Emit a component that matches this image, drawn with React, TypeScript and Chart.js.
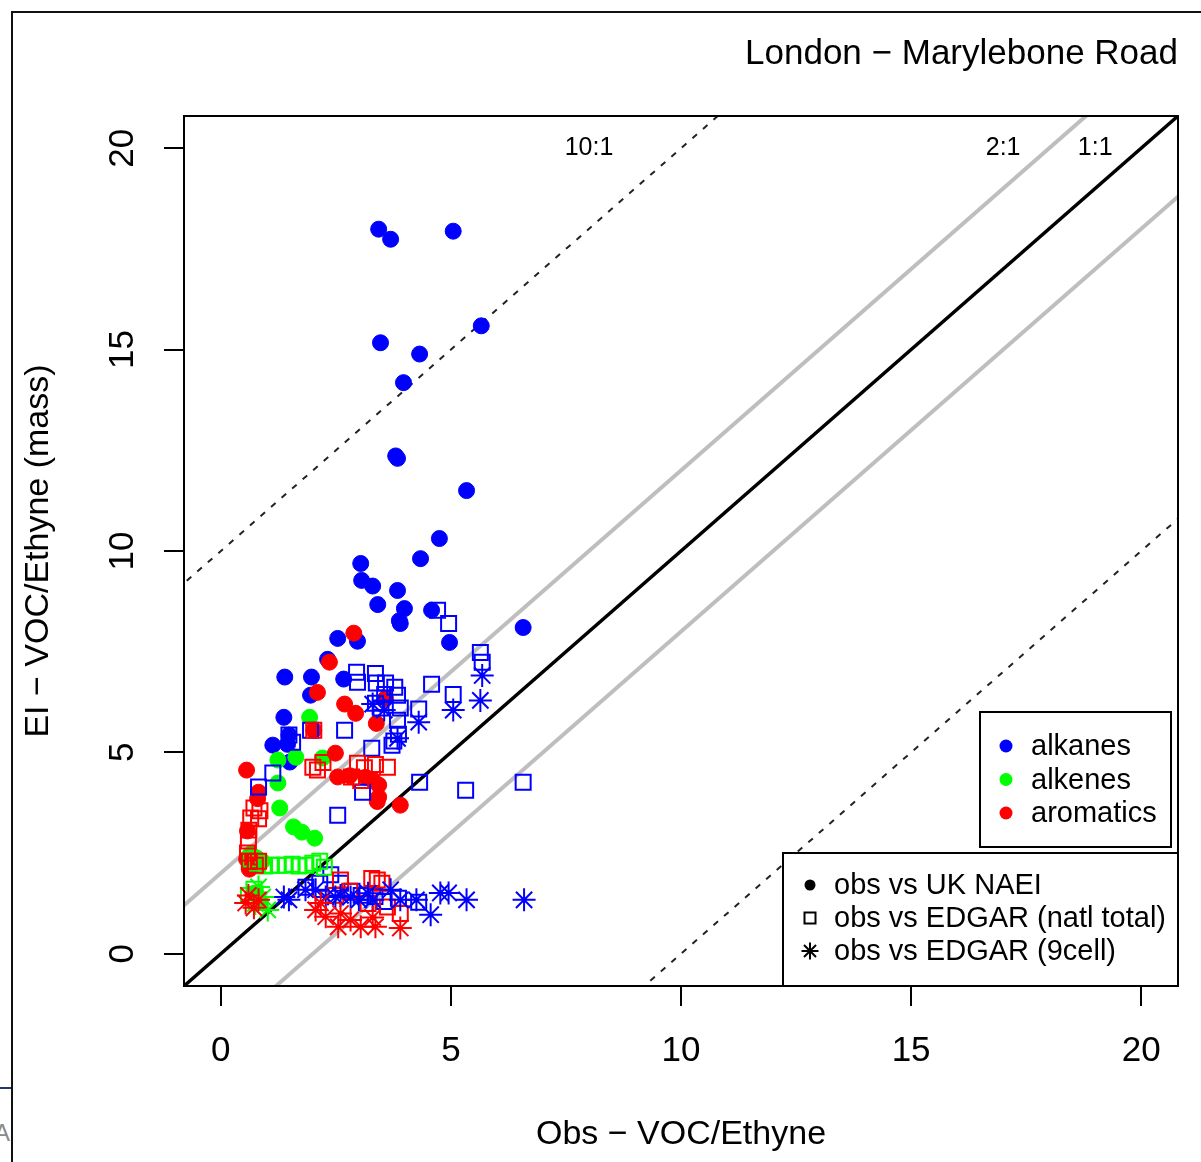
import React, { useEffect, useRef } from "react";
import { Chart, registerables } from "chart.js";

Chart.register(...registerables);

type Pt = [number, number];

// ---- data (x = Obs VOC/Ethyne, y = EI VOC/Ethyne) ----
const alkanesNAEI: Pt[] = [
  [3.43, 17.99], [3.69, 17.74], [5.05, 17.94], [5.66, 15.59], [3.47, 15.17], [4.32, 14.89],
  [3.97, 14.18], [3.80, 12.36], [3.84, 12.30], [5.34, 11.50], [4.75, 10.31], [4.34, 9.81],
  [3.04, 9.69], [3.06, 9.27], [3.30, 9.13], [3.84, 9.02], [3.41, 8.67], [3.99, 8.57],
  [3.88, 8.27], [3.90, 8.20], [4.58, 8.53], [4.97, 7.73], [6.57, 8.10], [2.54, 7.83],
  [2.97, 7.76], [2.32, 7.31], [1.97, 6.87], [1.39, 6.87], [2.67, 6.82], [1.95, 6.42],
  [1.37, 5.87], [1.13, 5.18], [1.48, 5.43], [1.50, 4.76], [1.45, 5.20],
];
const alkenesNAEI: Pt[] = [
  [1.93, 5.87], [1.24, 4.81], [1.63, 4.88], [2.21, 4.86], [1.24, 4.24], [1.28, 3.62],
  [1.58, 3.15], [1.76, 3.02], [2.04, 2.87], [0.65, 2.48], [0.78, 2.38], [0.90, 2.30],
  [0.72, 1.50], [0.85, 1.30],
];
const aromaticsNAEI: Pt[] = [
  [2.89, 7.96], [2.36, 7.24], [2.10, 6.49], [2.69, 6.20], [2.93, 5.97], [3.58, 6.34],
  [3.38, 5.72], [2.02, 5.55], [0.56, 4.56], [0.82, 4.01], [0.80, 3.85], [2.49, 4.98],
  [2.54, 4.39], [2.80, 4.42], [3.15, 4.38], [3.30, 4.32], [3.43, 4.19], [3.43, 3.89],
  [3.40, 3.78], [3.90, 3.69], [0.58, 3.05], [0.56, 2.35], [0.62, 2.10],
];
const alkanesEDGAR: Pt[] = [
  [4.71, 8.53], [4.95, 8.20], [5.64, 7.48], [5.68, 7.24], [4.58, 6.69], [5.05, 6.44],
  [2.95, 6.99], [3.36, 6.96], [2.97, 6.74], [3.38, 6.72], [3.58, 6.72], [3.78, 6.62],
  [3.84, 6.42], [3.56, 6.44], [4.30, 6.08], [3.48, 6.10], [3.36, 6.22], [3.90, 6.10],
  [3.84, 5.80], [3.86, 5.45], [3.76, 5.28], [3.28, 5.10], [3.72, 5.18], [4.32, 4.26],
  [5.32, 4.06], [6.57, 4.26], [3.08, 4.01], [2.54, 3.44], [0.82, 4.14], [1.13, 4.49],
  [1.48, 5.43], [1.56, 5.25], [1.95, 5.55], [2.69, 5.55], [2.39, 1.96], [2.15, 1.75],
  [2.60, 1.75], [2.85, 1.55], [3.05, 1.45], [3.35, 1.42], [3.55, 1.30], [3.86, 1.38],
  [4.30, 1.28], [1.85, 1.65],
];
const alkenesEDGAR: Pt[] = [
  [0.65, 2.35], [0.80, 2.25], [0.95, 2.18], [1.10, 2.20], [1.25, 2.20], [1.40, 2.20],
  [1.55, 2.22], [1.70, 2.18], [1.85, 2.20], [2.00, 2.25], [2.15, 2.30], [2.25, 2.15],
  [0.72, 1.60], [0.60, 1.45],
];
const aromaticsEDGAR: Pt[] = [
  [0.72, 3.62], [0.85, 3.55], [0.65, 3.37], [0.82, 3.35], [0.61, 3.07], [0.60, 2.80],
  [0.58, 2.50], [0.62, 2.30], [0.75, 2.20], [0.82, 2.30], [2.00, 4.63], [2.10, 4.56],
  [2.22, 4.75], [2.97, 4.73], [2.84, 4.39], [3.04, 4.30], [3.12, 4.62], [3.62, 4.63],
  [3.36, 4.70], [2.02, 5.55], [2.60, 1.83], [3.28, 1.87], [3.40, 1.83], [3.50, 1.75],
  [2.80, 1.55], [2.50, 1.45], [3.62, 1.16], [3.90, 1.00], [3.20, 1.25],
];
const alkanes9cell: Pt[] = [
  [5.68, 6.91], [5.64, 6.29], [5.05, 6.05], [4.30, 5.75], [3.84, 5.35], [3.30, 6.20],
  [3.55, 6.05], [1.37, 1.41], [1.48, 1.34], [1.84, 1.59], [2.06, 1.59], [2.28, 1.41],
  [2.49, 1.41], [2.82, 1.41], [3.00, 1.34], [3.30, 1.34], [3.69, 1.59], [3.90, 1.34],
  [4.25, 1.34], [4.56, 0.97], [4.77, 1.51], [4.95, 1.51], [5.34, 1.34], [6.59, 1.34],
  [3.20, 1.50], [2.60, 1.45],
];
const alkenes9cell: Pt[] = [[0.91, 1.41], [1.02, 1.09], [0.82, 1.66], [0.75, 1.25]];
const aromatics9cell: Pt[] = [
  [0.54, 1.26], [0.82, 1.34], [0.72, 1.14], [2.06, 1.09], [2.28, 0.92], [2.55, 0.67],
  [2.82, 0.84], [3.04, 0.67], [3.36, 0.67], [3.90, 0.64], [2.17, 1.26], [2.60, 1.00],
  [3.30, 0.90], [0.60, 1.45],
];

const xTickValues = [0, 5, 10, 15, 20];
const yTickValues = [0, 5, 10, 15, 20];
const axisLimits = [-0.8, 20.8];
const refLineOffsets = [10, 2, 0, -2, -10];
const ratioLabels = ["10:1", "2:1", "1:1"];
const ratioLabelX = [8, 17, 19];
const ratioLabelY = [20, 20, 20];
const groupLabels = ["alkanes", "alkenes", "aromatics"];
const sourceLabels = ["obs vs UK NAEI", "obs vs EDGAR (natl total)", "obs vs EDGAR (9cell)"];
const titleText = "London \u2212 Marylebone Road";
const xTitleText = "Obs \u2212 VOC/Ethyne";
const yTitleText = "EI \u2212 VOC/Ethyne (mass)";

const W = 1201;
const H = 1162;
const FONT = '"Liberation Sans", Arial, Helvetica, sans-serif';
const COLORS = ["#0000FF", "#00FF00", "#FF0000"];

function toXY(pts: Pt[]) {
  return pts.map(([x, y]) => ({ x, y }));
}

function refStyle(k: number) {
  if (Math.abs(k) === 10) return { borderColor: "#222", borderWidth: 2, borderDash: [6, 8] };
  if (k === 0) return { borderColor: "#000", borderWidth: 3.5, borderDash: [] };
  return { borderColor: "#BEBEBE", borderWidth: 4, borderDash: [] };
}

function drawStar(ctx: CanvasRenderingContext2D, x: number, y: number, r: number) {
  const d = r * Math.SQRT1_2;
  ctx.beginPath();
  ctx.moveTo(x - r, y); ctx.lineTo(x + r, y);
  ctx.moveTo(x, y - r); ctx.lineTo(x, y + r);
  ctx.moveTo(x - d, y - d); ctx.lineTo(x + d, y + d);
  ctx.moveTo(x - d, y + d); ctx.lineTo(x + d, y - d);
  ctx.stroke();
}

const decorPlugin = {
  id: "decor",
  afterDatasetsDraw(chart: any) {
    const { ctx, chartArea: a, scales } = chart;
    const xs = scales.x;
    const ys = scales.y;
    ctx.save();
    // ratio labels
    ctx.fillStyle = "#000";
    ctx.font = `25px ${FONT}`;
    ctx.textAlign = "center";
    ctx.textBaseline = "middle";
    ratioLabels.forEach((t, i) => {
      ctx.fillText(t, xs.getPixelForValue(ratioLabelX[i]), ys.getPixelForValue(ratioLabelY[i]));
    });
    // plot box
    ctx.lineWidth = 2;
    ctx.strokeStyle = "#000";
    ctx.strokeRect(a.left, a.top, a.right - a.left, a.bottom - a.top);

    // legend 1 (groups)
    const l1 = { left: a.right - 198, top: a.bottom - 274, w: 191, h: 135 };
    ctx.fillStyle = "#fff";
    ctx.fillRect(l1.left, l1.top, l1.w, l1.h);
    ctx.strokeRect(l1.left, l1.top, l1.w, l1.h);
    ctx.font = `29px ${FONT}`;
    ctx.textAlign = "left";
    groupLabels.forEach((t, i) => {
      const cy = l1.top + 34 + i * 33.5;
      ctx.fillStyle = COLORS[i];
      ctx.beginPath();
      ctx.arc(l1.left + 26, cy, 6.5, 0, Math.PI * 2);
      ctx.fill();
      ctx.fillStyle = "#000";
      ctx.fillText(t, l1.left + 51, cy + 1);
    });

    // legend 2 (sources)
    const l2 = { left: a.left + 599, top: a.bottom - 133, right: a.right, bottom: a.bottom };
    ctx.fillStyle = "#fff";
    ctx.fillRect(l2.left, l2.top, l2.right - l2.left, l2.bottom - l2.top);
    ctx.strokeRect(l2.left, l2.top, l2.right - l2.left, l2.bottom - l2.top);
    sourceLabels.forEach((t, i) => {
      const cy = l2.top + 32 + i * 33;
      const sx = l2.left + 27;
      ctx.fillStyle = "#000";
      ctx.strokeStyle = "#000";
      ctx.lineWidth = 2;
      if (i === 0) {
        ctx.beginPath();
        ctx.arc(sx, cy, 5.5, 0, Math.PI * 2);
        ctx.fill();
      } else if (i === 1) {
        ctx.strokeRect(sx - 5.5, cy - 5.5, 11, 11);
      } else {
        drawStar(ctx, sx, cy, 8.5);
      }
      ctx.fillText(t, l2.left + 51, cy + 1);
    });
    ctx.restore();
  },
};

export default function App() {
  const ref = useRef<HTMLCanvasElement | null>(null);

  useEffect(() => {
    if (!ref.current) return;
    const pointSets = [
      { pts: alkanesNAEI, c: 0, style: "circle", order: 9 },
      { pts: alkenesNAEI, c: 1, style: "circle", order: 8 },
      { pts: aromaticsNAEI, c: 2, style: "circle", order: 7 },
      { pts: alkanesEDGAR, c: 0, style: "rect", order: 6 },
      { pts: alkenesEDGAR, c: 1, style: "rect", order: 5 },
      { pts: aromaticsEDGAR, c: 2, style: "rect", order: 4 },
      { pts: alkanes9cell, c: 0, style: "star", order: 3 },
      { pts: alkenes9cell, c: 1, style: "star", order: 2 },
      { pts: aromatics9cell, c: 2, style: "star", order: 1 },
    ];
    const lo = axisLimits[0] - 2;
    const hi = axisLimits[1] + 2;
    const lineSets = refLineOffsets.map((k) => ({
      type: "scatter" as const,
      data: [{ x: lo, y: lo + k }, { x: hi, y: hi + k }],
      showLine: true,
      pointRadius: 0,
      fill: false,
      clip: 0,
      order: 100,
      ...refStyle(k),
    }));
    const scatterSets = pointSets.map((s) => {
      const col = COLORS[s.c];
      const base: any = {
        type: "scatter" as const,
        data: toXY(s.pts),
        pointStyle: s.style,
        order: s.order,
        clip: 0,
      };
      if (s.style === "circle") {
        return { ...base, pointRadius: 8, backgroundColor: col, borderColor: col, borderWidth: 1 };
      }
      if (s.style === "rect") {
        return { ...base, pointRadius: 10.6, backgroundColor: "rgba(0,0,0,0)", borderColor: col, borderWidth: 2 };
      }
      return { ...base, pointRadius: 11.5, backgroundColor: col, borderColor: col, borderWidth: 2 };
    });

    const tickFont = { family: FONT, size: 35, lineHeight: 1.2 };
    const titleFont = { family: FONT, size: 34, lineHeight: 1.2 };

    const chart = new Chart(ref.current, {
      type: "scatter",
      data: { datasets: [...lineSets, ...scatterSets] as any },
      options: {
        animation: false,
        responsive: false,
        events: [],
        layout: { padding: { left: 0, right: 23, top: 0, bottom: 0 } },
        plugins: {
          legend: { display: false },
          tooltip: { enabled: false },
          title: {
            display: true,
            text: titleText,
            align: "end",
            color: "#000",
            font: { family: FONT, size: 35, weight: "normal", lineHeight: 1.2 },
            padding: { top: 33, bottom: 41 },
          },
        },
        scales: {
          x: {
            type: "linear",
            position: "bottom",
            min: axisLimits[0],
            max: axisLimits[1],
            afterBuildTicks: (s: any) => { s.ticks = xTickValues.map((v) => ({ value: v })); },
            afterFit: (s: any) => { s.height = 176; },
            ticks: { color: "#000", font: tickFont, padding: 24, maxRotation: 0, minRotation: 0, autoSkip: false },
            grid: { display: true, drawOnChartArea: false, drawTicks: true, tickLength: 20, tickWidth: 2, lineWidth: 2, color: "#000", tickColor: "#000" },
            border: { display: false },
            title: { display: true, text: xTitleText, color: "#000", font: titleFont, padding: { top: 0, bottom: 7 } },
          },
          y: {
            type: "linear",
            position: "left",
            min: axisLimits[0],
            max: axisLimits[1],
            afterBuildTicks: (s: any) => { s.ticks = yTickValues.map((v) => ({ value: v })); },
            afterFit: (s: any) => { s.width = 184; },
            ticks: { color: "#000", font: tickFont, padding: 21.5, minRotation: 90, maxRotation: 90, crossAlign: "center", autoSkip: false },
            grid: { display: true, drawOnChartArea: false, drawTicks: true, tickLength: 20, tickWidth: 2, lineWidth: 2, color: "#000", tickColor: "#000" },
            border: { display: false },
            title: { display: true, text: yTitleText, color: "#000", font: titleFont, padding: { top: 18, bottom: 0 } },
          },
        },
      } as any,
      plugins: [decorPlugin],
    });
    return () => chart.destroy();
  }, []);

  return (
    <div style={{ position: "fixed", left: 0, top: 0, width: W, height: H, overflow: "hidden", background: "#fff" }}>
      <div style={{ position: "absolute", left: 11, top: 11, width: 2000, height: 2000, border: "2px solid #111" }} />
      <div style={{ position: "absolute", left: 0, top: 1087, width: 11, height: 2, background: "#1f3a68" }} />
      <div style={{ position: "absolute", left: -6, top: 1119, fontFamily: FONT, fontSize: 24, color: "#8a8a8a", lineHeight: "28px" }}>A</div>
      <canvas ref={ref} width={W} height={H} style={{ position: "absolute", left: 0, top: 0, display: "block" }} />
    </div>
  );
}
